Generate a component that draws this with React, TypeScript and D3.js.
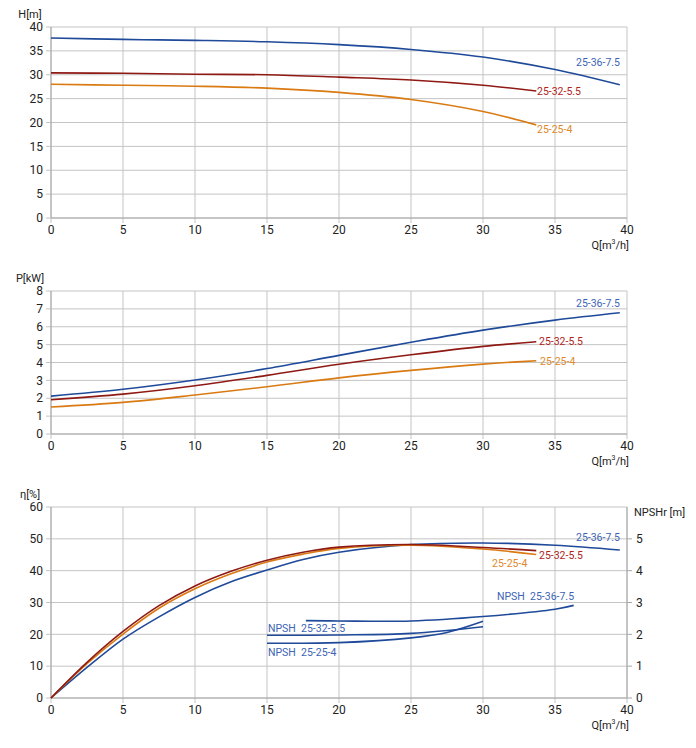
import { useRef, useEffect } from "react";
import * as d3 from "d3";

type Pt = [number, number];

// flow axis shared by all three panels
const qTicks = [0, 5, 10, 15, 20, 25, 30, 35, 40];

// head H[m]
const head367: Pt[] = [[0, 37.7], [5, 37.4], [10, 37.2], [15, 36.9], [20, 36.3], [25, 35.3], [30, 33.7], [35, 31.1], [39.5, 27.9]];
const head325: Pt[] = [[0, 30.4], [5, 30.3], [10, 30.1], [15, 30.0], [20, 29.5], [25, 28.9], [30, 27.8], [33.7, 26.6]];
const head254: Pt[] = [[0, 28.0], [5, 27.8], [10, 27.6], [15, 27.2], [20, 26.3], [25, 24.8], [30, 22.3], [33.7, 19.5]];

// power P[kW]
const power367: Pt[] = [[0, 2.12], [5, 2.5], [10, 3.02], [15, 3.66], [20, 4.4], [25, 5.13], [30, 5.81], [35, 6.37], [39.5, 6.78]];
const power325: Pt[] = [[0, 1.92], [5, 2.23], [10, 2.7], [15, 3.28], [20, 3.9], [25, 4.43], [30, 4.9], [33.7, 5.16]];
const power254: Pt[] = [[0, 1.51], [5, 1.77], [10, 2.18], [15, 2.64], [20, 3.14], [25, 3.56], [30, 3.91], [33.7, 4.1]];

// efficiency eta[%]
const eta367: Pt[] = [[0, 0], [2.5, 9.6], [5, 18.5], [7.5, 25.5], [10, 31.6], [12.5, 36.5], [15, 40.2], [17.5, 43.5], [20, 45.8], [25, 48.2], [30, 48.7], [35, 48.0], [39.5, 46.5]];
const eta325: Pt[] = [[0, 0], [2.5, 11.2], [5, 20.9], [7.5, 29.0], [10, 35.2], [12.5, 39.8], [15, 43.3], [17.5, 45.8], [20, 47.4], [25, 48.2], [30, 47.3], [33.7, 46.3]];
const eta254: Pt[] = [[0, 0], [2.5, 10.8], [5, 20.1], [7.5, 28.2], [10, 34.3], [12.5, 39.0], [15, 42.7], [17.5, 45.2], [20, 47.0], [25, 48.0], [30, 46.8], [33.7, 45.1]];

// NPSHr [m]
const npsh367: Pt[] = [[17.7, 2.43], [20, 2.42], [25, 2.42], [30, 2.56], [35, 2.79], [36.3, 2.91]];
const npsh325: Pt[] = [[15, 1.97], [20, 1.98], [25, 2.03], [30, 2.24]];
const npsh254: Pt[] = [[15, 1.72], [20, 1.74], [25, 1.89], [27.5, 2.06], [30, 2.41]];

const blue = "#1f4a9a";
const red = "#8f1a14";
const orange = "#d97a12";
const blueText = "#3d64b5";
const redText = "#b0241c";
const orangeText = "#e0892c";
const gridColor = "#c4c4c4";
const font = "Roboto, sans-serif";

interface Panel {
  top: number;
  bottom: number;
  yMax: number;
  yStep: number;
  title: string;
}

const x0 = 51;
const x1 = 627;

export default function App() {
  const svgRef = useRef<SVGSVGElement>(null);

  useEffect(() => {
    if (!svgRef.current) return;
    const svg = d3.select(svgRef.current);
    svg.selectAll("*").remove();

    const x = d3.scaleLinear().domain([0, 40]).range([x0, x1]);

    const drawPanel = (p: Panel) => {
      const y = d3.scaleLinear().domain([0, p.yMax]).range([p.bottom, p.top]);
      const yTicks = d3.range(0, p.yMax + p.yStep / 2, p.yStep);
      const g = svg.append("g");

      g.selectAll(".hg").data(yTicks).join("line")
        .attr("x1", x0 - 5).attr("x2", x1)
        .attr("y1", (d) => y(d)).attr("y2", (d) => y(d))
        .attr("stroke", gridColor).attr("stroke-width", 1);
      g.selectAll(".vg").data(qTicks).join("line")
        .attr("x1", (d) => x(d)).attr("x2", (d) => x(d))
        .attr("y1", p.top).attr("y2", p.bottom + 5)
        .attr("stroke", gridColor).attr("stroke-width", 1);
      g.append("line").attr("x1", x0).attr("x2", x1).attr("y1", p.bottom).attr("y2", p.bottom)
        .attr("stroke", "#a8a8a8");
      g.append("line").attr("x1", x0).attr("x2", x0).attr("y1", p.top).attr("y2", p.bottom)
        .attr("stroke", "#a8a8a8");

      g.selectAll(".yl").data(yTicks).join("text")
        .attr("x", 43).attr("y", (d) => y(d)).attr("dy", "0.35em")
        .attr("text-anchor", "end").attr("font-family", font).attr("font-size", 12)
        .attr("fill", "#222").text((d) => d);
      g.selectAll(".xl").data(qTicks).join("text")
        .attr("x", (d) => x(d)).attr("y", p.bottom + 16)
        .attr("text-anchor", "middle").attr("font-family", font).attr("font-size", 12)
        .attr("fill", "#222").text((d) => d);

      g.append("text").attr("x", 30).attr("y", p.top - 13).attr("dy", "0.35em")
        .attr("text-anchor", "middle").attr("font-family", font).attr("font-size", 11)
        .attr("fill", "#222").text(p.title);

      const qt = g.append("text").attr("x", x1 + 2).attr("y", p.bottom + 31)
        .attr("text-anchor", "end").attr("font-family", font).attr("font-size", 11)
        .attr("fill", "#222");
      qt.append("tspan").text("Q[m");
      qt.append("tspan").attr("font-size", 7).attr("dy", -5).text("3");
      qt.append("tspan").attr("dy", 5).text("/h]");
      return y;
    };

    const line = (y: d3.ScaleLinear<number, number>) =>
      d3.line<Pt>().x((d) => x(d[0])).y((d) => y(d[1])).curve(d3.curveCatmullRom.alpha(0.5));

    const drawCurve = (data: Pt[], y: d3.ScaleLinear<number, number>, color: string) => {
      svg.append("path").datum(data).attr("d", line(y))
        .attr("fill", "none").attr("stroke", color).attr("stroke-width", 1.6);
    };

    const label = (text: string, px: number, py: number, color: string, anchor = "start") => {
      svg.append("text").attr("x", px).attr("y", py).attr("dy", "0.35em")
        .attr("text-anchor", anchor).attr("font-family", font).attr("font-size", 10.5)
        .style("white-space", "pre")
        .attr("fill", color).text(text);
    };

    // panel 1: head
    const yH = drawPanel({ top: 27, bottom: 218, yMax: 40, yStep: 5, title: "H[m]" });
    drawCurve(head367, yH, blue);
    drawCurve(head325, yH, red);
    drawCurve(head254, yH, orange);
    label("25-36-7.5", 620, 62, blueText, "end");
    label("25-32-5.5", 537, 91, redText);
    label("25-25-4", 537, 129, orangeText);

    // panel 2: power
    const yP = drawPanel({ top: 291, bottom: 434, yMax: 8, yStep: 1, title: "P[kW]" });
    drawCurve(power367, yP, blue);
    drawCurve(power325, yP, red);
    drawCurve(power254, yP, orange);
    label("25-36-7.5", 620, 303, blueText, "end");
    label("25-32-5.5", 539, 341, redText);
    label("25-25-4", 540, 361, orangeText);

    // panel 3: efficiency + NPSHr
    const yE = drawPanel({ top: 507, bottom: 698, yMax: 60, yStep: 10, title: "η[%]" });
    const yN = d3.scaleLinear().domain([0, 6]).range([698, 507]);
    const rightTicks = [0, 1, 2, 3, 4, 5];
    svg.append("line").attr("x1", x1).attr("x2", x1).attr("y1", 507).attr("y2", 698)
      .attr("stroke", "#a8a8a8");
    svg.selectAll(".rt").data(rightTicks).join("line")
      .attr("x1", x1).attr("x2", x1 + 5)
      .attr("y1", (d) => yN(d)).attr("y2", (d) => yN(d)).attr("stroke", "#a8a8a8");
    svg.selectAll(".rl").data(rightTicks).join("text")
      .attr("x", x1 + 9).attr("y", (d) => yN(d)).attr("dy", "0.35em")
      .attr("font-family", font).attr("font-size", 12).attr("fill", "#222").text((d) => d);
    svg.append("text").attr("x", 634).attr("y", 512).attr("dy", "0.35em")
      .attr("font-family", font).attr("font-size", 11).attr("fill", "#222").text("NPSHr [m]");

    drawCurve(eta367, yE, blue);
    drawCurve(eta254, yE, orange);
    drawCurve(eta325, yE, red);
    drawCurve(npsh367, yN, blue);
    drawCurve(npsh325, yN, blue);
    drawCurve(npsh254, yN, blue);
    label("25-36-7.5", 620, 537, blueText, "end");
    label("25-32-5.5", 539, 555, redText);
    label("25-25-4", 492, 563, orangeText);
    label("NPSH  25-36-7.5", 497, 596, blueText);
    label("NPSH  25-32-5.5", 268, 628, blueText);
    label("NPSH  25-25-4", 268, 652, blueText);
  }, []);

  return (
    <svg
      ref={svgRef}
      width={696}
      height={748}
      style={{ position: "absolute", left: 0, top: 0, background: "#fff" }}
    />
  );
}
